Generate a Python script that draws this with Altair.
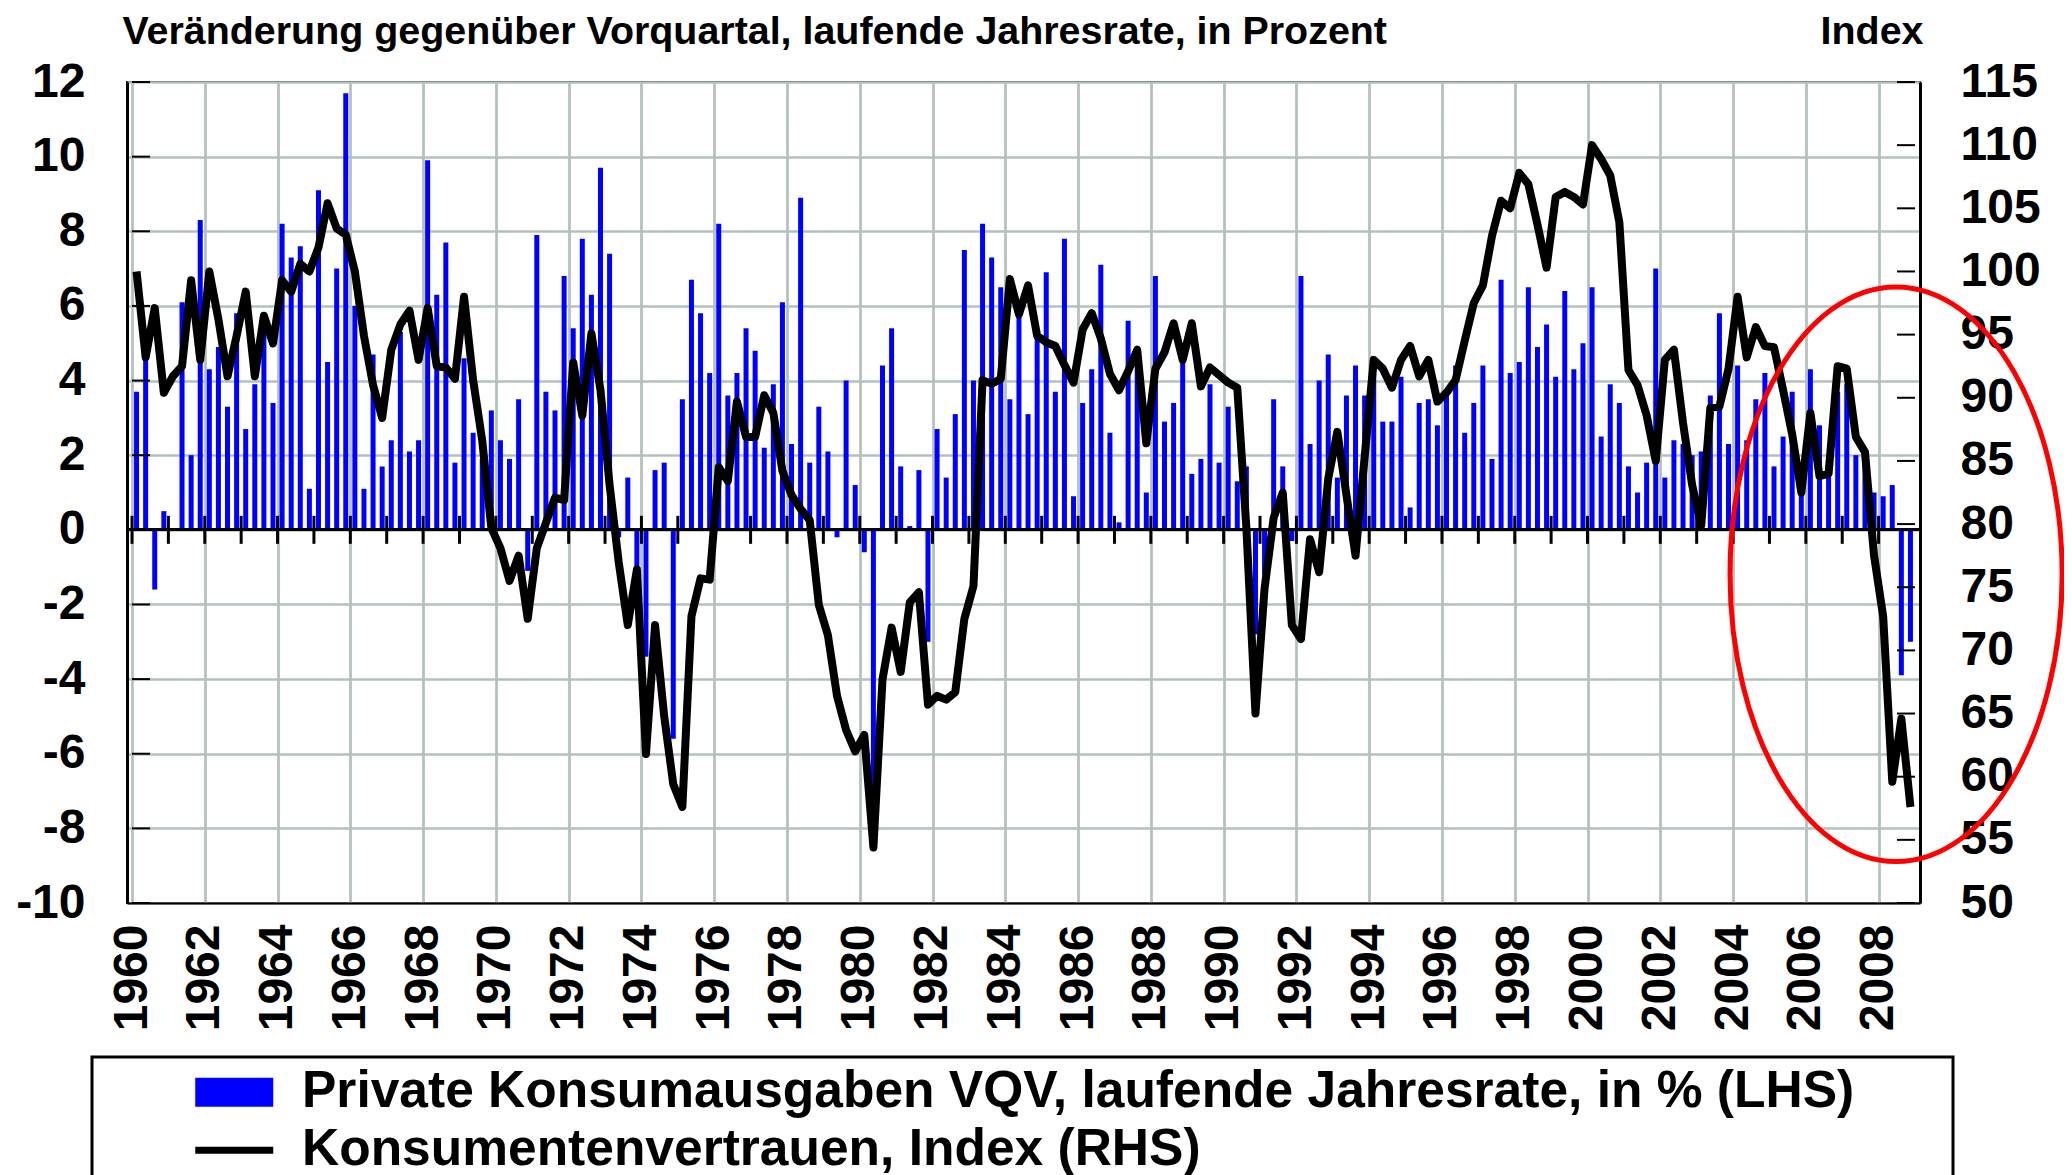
import altair as alt
import pandas as pd

FONT = "Liberation Sans"
GRID = "#b3c0bb"

# ---------------- data ----------------
years = list(range(1960, 2009))
quarters = [1, 2, 3, 4]

# Private Konsumausgaben, Veränderung gg. Vorquartal, laufende Jahresrate in % (Q1..Q4 per line)
konsum = [
    3.7, 4.6, -1.6, 0.5,    # 1960
    0.0, 6.1, 2.0, 8.3,     # 1961
    4.3, 4.9, 3.3, 5.8,     # 1962
    2.7, 3.9, 5.4, 3.4,     # 1963
    8.2, 7.3, 7.6, 1.1,     # 1964
    9.1, 4.5, 7.0, 11.7,    # 1965
    6.0, 1.1, 4.7, 1.7,     # 1966
    2.4, 5.3, 2.1, 2.4,     # 1967
    9.9, 6.3, 7.7, 1.8,     # 1968
    4.6, 2.6, 1.9, 3.2,     # 1969
    2.4, 1.9, 3.5, -1.1,    # 1970
    7.9, 3.7, 3.2, 6.8,     # 1971
    5.4, 7.8, 6.3, 9.7,     # 1972
    7.4, -0.2, 1.4, -1.0,   # 1973
    -3.4, 1.6, 1.8, -5.6,   # 1974
    3.5, 6.7, 5.8, 4.2,     # 1975
    8.2, 3.6, 4.2, 5.4,     # 1976
    4.8, 2.2, 3.9, 6.1,     # 1977
    2.3, 8.9, 1.8, 3.3,     # 1978
    2.1, -0.2, 4.0, 1.2,    # 1979
    -0.6, -8.6, 4.4, 5.4,   # 1980
    1.7, 0.1, 1.6, -3.0,    # 1981
    2.7, 1.4, 3.1, 7.5,     # 1982
    4.0, 8.2, 7.3, 6.5,     # 1983
    3.5, 5.7, 3.1, 5.2,     # 1984
    6.9, 3.7, 7.8, 0.9,     # 1985
    3.4, 4.3, 7.1, 2.6,     # 1986
    0.2, 5.6, 4.8, 1.0,     # 1987
    6.8, 2.9, 3.4, 4.6,     # 1988
    1.5, 1.9, 3.9, 1.8,     # 1989
    3.3, 1.3, 1.7, -2.8,    # 1990
    -1.2, 3.5, 1.7, -0.3,   # 1991
    6.8, 2.3, 4.0, 4.7,     # 1992
    1.4, 3.6, 4.4, 3.6,     # 1993
    4.3, 2.9, 2.9, 4.1,     # 1994
    0.6, 3.4, 3.5, 2.8,     # 1995
    3.7, 4.4, 2.6, 3.4,     # 1996
    4.4, 1.9, 6.7, 4.2,     # 1997
    4.5, 6.5, 4.9, 5.5,     # 1998
    4.1, 6.4, 4.3, 5.0,     # 1999
    6.5, 2.5, 3.9, 3.4,     # 2000
    1.7, 1.0, 1.8, 7.0,     # 2001
    1.4, 2.4, 2.3, 2.0,     # 2002
    2.1, 3.6, 5.8, 2.3,     # 2003
    4.4, 2.4, 3.5, 4.2,     # 2004
    1.7, 2.5, 3.7, 1.0,     # 2005
    4.3, 2.8, 1.5, 3.7,     # 2006
    3.9, 2.0, 2.0, 1.0,     # 2007
    0.9, 1.2, -3.9, -3.0,   # 2008
]

# Konsumentenvertrauen, Index (Q1..Q4 per line)
vertrauen = [
    100.0, 93.2, 97.1, 90.4,    # 1960
    91.7, 92.5, 99.3, 93.0,     # 1961
    100.0, 96.2, 91.7, 94.9,    # 1962
    98.4, 91.7, 96.5, 94.3,     # 1963
    99.3, 98.4, 100.6, 100.0,   # 1964
    101.9, 105.4, 103.4, 102.9, # 1965
    100.0, 94.9, 91.0, 88.4,    # 1966
    93.8, 95.8, 96.9, 93.0,     # 1967
    97.1, 92.5, 92.4, 91.5,     # 1968
    98.0, 91.4, 86.6, 79.7,     # 1969
    78.1, 75.5, 77.5, 72.5,     # 1970
    78.1, 80.1, 82.1, 81.9,     # 1971
    92.8, 88.6, 95.1, 90.6,     # 1972
    83.1, 77.0, 72.0, 76.4,     # 1973
    61.8, 72.0, 64.8, 59.4,     # 1974
    57.6, 72.7, 75.7, 75.6,     # 1975
    84.5, 83.4, 89.7, 86.9,     # 1976
    86.9, 90.2, 88.8, 84.2,     # 1977
    82.3, 81.2, 80.3, 73.6,     # 1978
    71.2, 66.4, 63.7, 62.0,     # 1979
    63.3, 54.4, 67.7, 71.8,     # 1980
    68.3, 73.8, 74.6, 65.7,     # 1981
    66.4, 66.1, 66.7, 72.5,     # 1982
    75.1, 91.4, 91.1, 91.5,     # 1983
    99.4, 96.6, 98.9, 94.9,     # 1984
    94.4, 94.1, 92.6, 91.2,     # 1985
    95.4, 96.7, 94.7, 91.9,     # 1986
    90.6, 92.1, 93.8, 86.4,     # 1987
    92.3, 93.6, 95.9, 93.0,     # 1988
    95.9, 90.9, 92.4, 91.8,     # 1989
    91.2, 90.8, 79.7, 65.0,     # 1990
    74.9, 80.5, 82.5, 72.0,     # 1991
    70.9, 78.8, 76.2, 83.6,     # 1992
    87.3, 82.3, 77.5, 85.3,     # 1993
    93.0, 92.3, 90.8, 93.0,     # 1994
    94.1, 91.7, 93.0, 89.7,     # 1995
    90.4, 91.4, 94.5, 97.5,     # 1996
    98.9, 102.8, 105.6, 105.0,  # 1997
    107.8, 106.9, 103.7, 100.3, # 1998
    105.9, 106.3, 105.9, 105.3, # 1999
    110.0, 108.9, 107.6, 103.9, # 2000
    92.2, 91.0, 88.6, 85.0,     # 2001
    93.0, 93.8, 88.0, 83.1,     # 2002
    79.9, 89.2, 89.3, 92.3,     # 2003
    98.0, 93.2, 95.6, 94.1,     # 2004
    94.0, 90.6, 87.1, 82.5,     # 2005
    88.8, 83.8, 84.0, 92.5,     # 2006
    92.3, 86.9, 85.7, 77.5,     # 2007
    72.7, 59.6, 64.6, 57.6,     # 2008
]

left_ticks = [-10, -8, -6, -4, -2, 0, 2, 4, 6, 8, 10, 12]
right_ticks = [50, 55, 60, 65, 70, 75, 80, 85, 90, 95, 100, 105, 110, 115]
grid_years = list(range(1960, 2010))
zero_tick_years = list(range(1960, 2009))

label_bar = "Private Konsumausgaben VQV, laufende Jahresrate, in % (LHS)"
label_line = "Konsumentenvertrauen, Index (RHS)"
title_left = "Veränderung gegenüber Vorquartal, laufende Jahresrate, in Prozent"
title_right = "Index"

# red highlight ellipse (annotation) centre, in data units
ellipse_year = 2008.48
ellipse_value = -1.19

# ---------------- build ----------------
t = [y + (q - 0.5) / 4 for y in years for q in quarters]
df = pd.DataFrame({"t": t, "konsum": konsum, "vertrauen": vertrauen})
zt_df = pd.DataFrame({"t": zero_tick_years})
lt_df = pd.DataFrame({"v": left_ticks})
rt_df = pd.DataFrame({"v": right_ticks})
legend_df = pd.DataFrame({"t": pd.Series([], dtype=float),
                          "konsum": pd.Series([], dtype=float),
                          "series": pd.Series([], dtype=str)})

X0, X1 = 1960, 2009
xscale = alt.Scale(domain=[X0, X1], nice=False, zero=False)
lscale = alt.Scale(domain=[-10, 12], nice=False, zero=False)
rscale = alt.Scale(domain=[50, 115], nice=False, zero=False)

x_axis = alt.Axis(
    values=grid_years, format="d",
    labelExpr="datum.value % 2 == 0 && datum.value < 2009 ? datum.label : ''",
    labelAngle=270, labelFont=FONT, labelFontSize=48, labelFontWeight="bold",
    labelColor="black", labelPadding=21, ticks=False,
    grid=True, gridColor=GRID, gridWidth=2.7,
    domainColor="black", domainWidth=2, title=None,
)

left_axis = alt.Axis(
    orient="left", values=left_ticks,
    labelExpr="datum.value < 0 ? '-' + abs(datum.value) : '' + datum.value",
    labelFont=FONT, labelFontSize=48, labelFontWeight="bold", labelColor="black",
    labelPadding=42, ticks=False,
    grid=True, gridColor=GRID, gridWidth=2.7,
    domainColor="black", domainWidth=3,
    title=title_left, titleAngle=0, titleAlign="left", titleBaseline="alphabetic",
    titleX=-5, titleY=-39, titleFont=FONT, titleFontSize=39.4, titleFontWeight="bold",
    titleColor="black",
)

right_axis = alt.Axis(
    orient="right", values=right_ticks, format="d",
    labelFont=FONT, labelFontSize=48, labelFontWeight="bold", labelColor="black",
    labelPadding=40, ticks=False,
    grid=False, domainColor="black", domainWidth=3,
    title=title_right, titleAngle=0, titleAlign="right", titleBaseline="alphabetic",
    titleX=3, titleY=-39, titleFont=FONT, titleFontSize=39.4, titleFontWeight="bold",
    titleColor="black",
)

sym_bar = "M-1.95,-0.725L1.95,-0.725L1.95,0.725L-1.95,0.725Z"
sym_line = "M-1.95,-0.18L1.95,-0.18L1.95,0.18L-1.95,0.18Z"

legend = alt.Legend(
    title="MM", titleOrient="right", titleFontSize=53, titlePadding=0, titleOpacity=0,
    orient="none", legendX=-35, legendY=975, direction="vertical",
    padding=9.5, strokeColor="black",
    symbolSize=1600, symbolOffset=107, symbolStrokeWidth=0, symbolOpacity=1,
    labelFont=FONT, labelFontSize=51.5, labelFontWeight="bold", labelColor="black",
    labelOffset=42, labelLimit=3000, rowPadding=5,
)

bars = alt.Chart(df).mark_bar(size=5, color="#0000ff").encode(
    x=alt.X("t:Q", scale=xscale, axis=x_axis),
    y=alt.Y("konsum:Q", scale=lscale, axis=left_axis, stack=None),
)

# layer without rows that only carries the legend
legend_layer = alt.Chart(legend_df).mark_point(filled=True, opacity=1).encode(
    x=alt.X("t:Q", scale=xscale),
    y=alt.Y("konsum:Q", scale=lscale),
    color=alt.Color("series:N",
                    scale=alt.Scale(domain=[label_bar, label_line], range=["#0000ff", "#000000"]),
                    legend=legend),
    shape=alt.Shape("series:N",
                    scale=alt.Scale(domain=[label_bar, label_line], range=[sym_bar, sym_line]),
                    legend=legend),
)

zero_line = alt.Chart(df).mark_rule(color="black", strokeWidth=2).encode(
    y=alt.datum(0),
)

zero_ticks = alt.Chart(zt_df).mark_rule(color="black", strokeWidth=3).encode(
    x=alt.X("t:Q", scale=xscale),
    y=alt.datum(-0.375),
    y2=alt.datum(0.375),
)

# inward tick marks on the left axis
left_inticks = alt.Chart(lt_df).mark_tick(
    orient="horizontal", size=18, thickness=2, color="black", xOffset=9, opacity=1
).encode(
    x=alt.XDatum(X0, scale=xscale),
    y=alt.Y("v:Q", scale=lscale),
)

left_layer = alt.layer(bars, zero_line, zero_ticks, left_inticks, legend_layer)

line = alt.Chart(df).mark_line(color="black", strokeWidth=8, strokeJoin="round").encode(
    x=alt.X("t:Q", scale=xscale),
    y=alt.Y("vertrauen:Q", scale=rscale, axis=right_axis),
)

right_inticks = alt.Chart(rt_df).mark_tick(
    orient="horizontal", size=18, thickness=2, color="black", xOffset=-9, opacity=1
).encode(
    x=alt.XDatum(X1, scale=xscale),
    y=alt.Y("v:Q", scale=rscale),
)

right_layer = alt.layer(line, right_inticks)

ellipse_path = ("M0,-1C0.3192,-1 0.578,-0.5523 0.578,0C0.578,0.5523 0.3192,1 0,1"
                "C-0.3192,1 -0.578,0.5523 -0.578,0C-0.578,-0.5523 -0.3192,-1 0,-1Z")
ellipse = alt.Chart(pd.DataFrame({"a": [0]})).mark_point(
    shape=ellipse_path, size=330165, filled=False, stroke="#ff0000",
    strokeWidth=5, opacity=1,
).encode(
    x=alt.XDatum(ellipse_year, scale=xscale),
    y=alt.YDatum(ellipse_value, scale=lscale, axis=None),
)

chart = alt.layer(left_layer, right_layer, ellipse).resolve_scale(
    y="independent"
).properties(
    width=1793, height=821,
    autosize=alt.AutoSizeParams(type="none"),
    padding={"left": 119, "top": 74, "right": 144, "bottom": 272},
    background="white",
).configure_view(stroke="black", strokeWidth=2).configure_legend(strokeWidth=3)

chart.save("out.html", embed_options={"renderer": "svg", "actions": False})
